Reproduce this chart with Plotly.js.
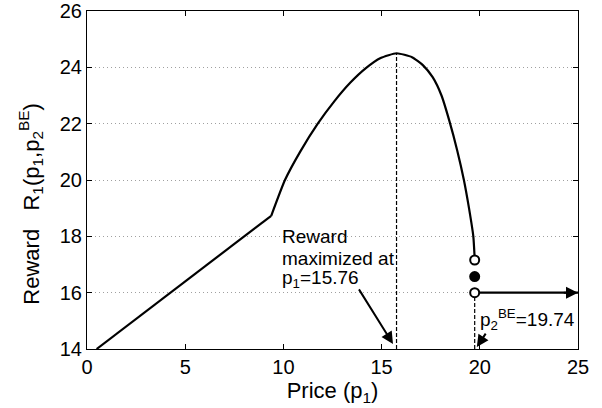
<!DOCTYPE html>
<html>
<head>
<meta charset="utf-8">
<script src="https://cdn.plot.ly/plotly-3.0.1.min.js"></script>
<style>html,body{margin:0;padding:0;background:#fff;}#chart{width:602px;height:408px;}</style>
</head>
<body>
<div id="chart"></div>
<script>
// Reward curve R1(p1, p2^BE)
const linearPrice = [0.49, 9.38];
const linearReward = [14.0, 18.73];
const curvePrice = [9.38, 10.08, 10.85, 11.75, 12.6, 13.4, 14.2, 14.95, 15.76, 16.55, 17.1, 17.6, 18.05, 18.45, 18.85, 19.19, 19.45, 19.67, 19.74];
const curveReward = [18.73, 20.0, 21.0, 22.0, 22.8, 23.45, 23.97, 24.33, 24.5, 24.36, 24.08, 23.65, 23.0, 22.1, 21.05, 20.0, 19.0, 18.0, 17.2];
// Discontinuity points at p1 = p2^BE
const jumpPrice = [19.74, 19.74, 19.74];
const jumpReward = [17.16, 16.57, 16.0];
const jumpFill = ["white", "black", "white"];
// Reference values
const optPrice = 15.76;
const optReward = 24.5;
const bePrice = 19.74;
const beReward = 16.0;
const xMin = 0, xMax = 25, yMin = 14, yMax = 26;
const xTicks = [0, 5, 10, 15, 20, 25];
const yTicks = [14, 16, 18, 20, 22, 24, 26];

const FONT = "Liberation Sans, Arial, Helvetica, sans-serif";

const traces = [
  {x: linearPrice, y: linearReward, mode: "lines", line: {color: "black", width: 2.2}, hoverinfo: "skip", showlegend: false},
  {x: curvePrice, y: curveReward, mode: "lines", line: {color: "black", width: 2.2, shape: "spline", smoothing: 0.5}, hoverinfo: "skip", showlegend: false},
  {x: [optPrice, optPrice], y: [yMin, optReward], mode: "lines", line: {color: "black", width: 1.2, dash: "4px,2px"}, showlegend: false},
  {x: [bePrice, bePrice], y: [yMin, beReward], mode: "lines", line: {color: "black", width: 1.2, dash: "4px,2px"}, showlegend: false},
  {x: [bePrice, xMax], y: [beReward, beReward], mode: "lines", line: {color: "black", width: 2.2}, showlegend: false},
  {x: jumpPrice, y: jumpReward, mode: "markers", marker: {size: 9, color: jumpFill, line: {color: "black", width: 2}}, showlegend: false, cliponaxis: false}
];

const txt = {family: FONT, size: 19, color: "black"};
const annotations = [
  {x: optPrice - 0.18, y: yMin + 0.18, ax: 13.8, ay: 16.17, xref: "x", yref: "y", axref: "x", ayref: "y", text: "", showarrow: true, arrowhead: 2, arrowsize: 1.2, arrowwidth: 2, arrowcolor: "black"},
  {x: 19.85, y: 14.07, ax: 20.35, ay: 14.6, xref: "x", yref: "y", axref: "x", ayref: "y", text: "", showarrow: true, arrowhead: 2, arrowsize: 1.2, arrowwidth: 2, arrowcolor: "black"},
  {x: xMax, y: beReward, ax: xMax - 0.8, ay: beReward, xref: "x", yref: "y", axref: "x", ayref: "y", text: "", showarrow: true, arrowhead: 2, arrowsize: 1.2, arrowwidth: 2, arrowcolor: "black"},
  {x: 9.85, y: 17.98, xref: "x", yref: "y", text: "Reward", showarrow: false, xanchor: "left", yanchor: "middle", font: txt},
  {x: 9.85, y: 17.23, xref: "x", yref: "y", text: "maximized at", showarrow: false, xanchor: "left", yanchor: "middle", font: txt},
  {x: 9.85, y: 16.5, xref: "x", yref: "y", text: "p<sub>1</sub>=15.76", showarrow: false, xanchor: "left", yanchor: "middle", font: txt},
  {x: 24.95, y: 15.05, xref: "x", yref: "y", text: "p<sub>2</sub><sup>BE</sup>=19.74", showarrow: false, xanchor: "right", yanchor: "middle", font: txt},
  // y-axis title, placed lower as in the reference
  {x: -0.114, y: 0.43, xref: "paper", yref: "paper", textangle: -90, xanchor: "center", yanchor: "middle", showarrow: false,
   text: "Reward&nbsp;&nbsp;&nbsp;R<sub>1</sub>(p<sub>1</sub>,p<sub>2</sub><sup>BE</sup>)", font: {family: FONT, size: 22, color: "black"}}
];

const layout = {
  width: 602, height: 408,
  margin: {l: 87, r: 24, t: 11, b: 59, pad: 0},
  paper_bgcolor: "white", plot_bgcolor: "white",
  font: {family: FONT, size: 20, color: "black"},
  showlegend: false,
  xaxis: {
    range: [xMin, xMax], tickvals: xTicks, ticktext: xTicks.map(String),
    ticks: "inside", ticklen: 5, tickwidth: 1, tickcolor: "black",
    showline: true, linecolor: "black", linewidth: 1, mirror: "ticks",
    showgrid: false, zeroline: false,
    tickfont: {family: FONT, size: 20, color: "black"},
    title: {text: "Price (p<sub>1</sub>)", font: {family: FONT, size: 22, color: "black"}, standoff: 0}
  },
  yaxis: {
    range: [yMin, yMax], tickvals: yTicks, ticktext: yTicks.map(String),
    ticks: "inside", ticklen: 5, tickwidth: 1, tickcolor: "black",
    showline: true, linecolor: "black", linewidth: 1, mirror: "ticks",
    showgrid: true, gridcolor: "#a0a0a0", gridwidth: 1, griddash: "1px,3px", zeroline: false,
    tickfont: {family: FONT, size: 20, color: "black"}
  },
  annotations: annotations
};

Plotly.newPlot("chart", traces, layout, {staticPlot: true, displayModeBar: false});
</script>
</body>
</html>
